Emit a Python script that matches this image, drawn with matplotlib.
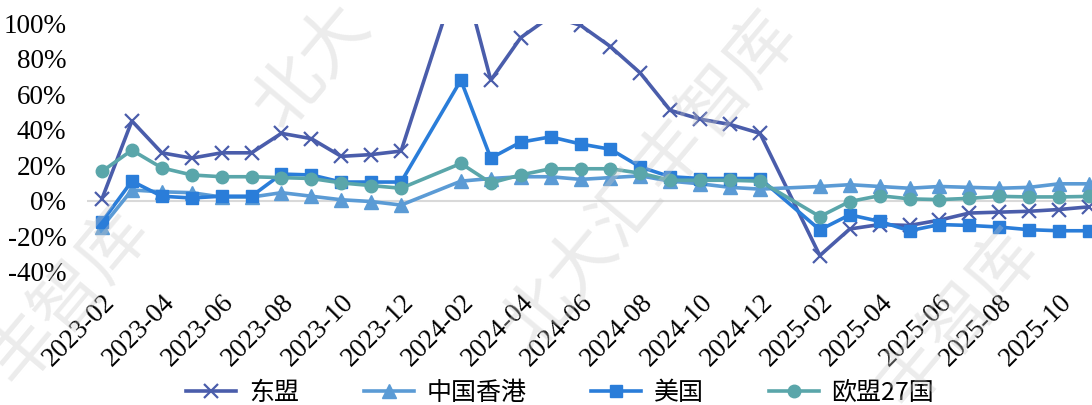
import numpy as np
import matplotlib
matplotlib.use("Agg")
import matplotlib.pyplot as plt

# months (Jan has no separate figure, lines are joined across it)
months = ["2023-02", "2023-03", "2023-04", "2023-05", "2023-06", "2023-07",
          "2023-08", "2023-09", "2023-10", "2023-11", "2023-12",
          "2024-01", "2024-02", "2024-03", "2024-04", "2024-05", "2024-06",
          "2024-07", "2024-08", "2024-09", "2024-10", "2024-11", "2024-12",
          "2025-01", "2025-02", "2025-03", "2025-04", "2025-05", "2025-06",
          "2025-07", "2025-08", "2025-09", "2025-10", "2025-11"]

asean = [1, 45, 27, 24, 27, 27, 38, 35, 25, 26, 28,
         None, 132, 68, 92, 104, 99, 87, 72, 51, 46, 43, 38,
         None, -31, -16, -13.5, -14, -11, -7, -6.5, -6, -5, -3.5]
hk = [-15, 6, 5, 4.5, 2, 2, 4.5, 2.5, 0.5, -0.5, -2.5,
      None, 11, 12.5, 13.5, 13.5, 12, 13, 14, 11, 9.5, 7.5, 6.5,
      None, 8, 9, 8, 7, 8, 7.5, 7, 7.5, 9.5, 9.5]
usa = [-12, 11, 2.5, 1.5, 2.5, 2.5, 15, 14.5, 10.5, 10.5, 10.5,
       None, 68, 24, 33, 36, 32, 29, 19, 13.5, 12.5, 12.5, 12.5,
       None, -16.5, -8, -11.7, -17, -13.5, -14, -14.9, -16.4, -17, -17]
eu27 = [16.5, 28.5, 18.5, 14.5, 13.5, 13.5, 13, 12.5, 10, 8.5, 7,
        None, 21, 10, 14.5, 18, 18, 18, 15.5, 11.5, 11.5, 11.5, 11,
        None, -9, -0.5, 2.8, 1, 0.6, 1.3, 2.4, 2.1, 2.1, 2.4]

names = ["东盟", "中国香港", "美国", "欧盟27国"]
colors = ["#4a5dab", "#5b9bd5", "#2a7dd9", "#5aa6aa"]
markers = ["x", "^", "s", "o"]
msizes = [10, 10, 8.5, 9]

fig = plt.figure(figsize=(10.92, 4.05), dpi=100)
ax = fig.add_axes([87 / 1092, 133.5 / 405, 1 - 87 / 1092, 248 / 405])

for vals, name, c, m, ms in zip([asean, hk, usa, eu27], names, colors, markers, msizes):
    xs = [i for i, v in enumerate(vals) if v is not None]
    ys = [v for v in vals if v is not None]
    ax.plot(xs, ys, color=c, lw=2.6, marker=m, ms=ms, mew=1.6 if m == "x" else 1,
            mec=c, mfc=c, label=name)

ax.axhline(0, color="#d9d9d9", lw=1.5, zorder=0)
ax.set_xlim(-0.5, 33.1)
ax.set_ylim(-40, 100)
ax.set_yticks(np.arange(-40, 101, 20))
ax.set_yticklabels([f"{v}%" for v in range(-40, 101, 20)],
                   family="Liberation Serif", fontsize=19.5)
ax.set_xticks(range(0, len(months), 2))
ax.set_xticklabels(months[::2], rotation=45, ha="right", rotation_mode="anchor",
                   family="Liberation Serif", fontsize=19.5)
ax.tick_params(axis="y", length=0, pad=15)
ax.tick_params(axis="x", length=0, pad=13)
for s in ax.spines.values():
    s.set_visible(False)

fig.legend(loc="center", bbox_to_anchor=(0.513, 0.03), ncol=4, frameon=False,
           prop={"family": ["Noto Sans CJK SC", "DejaVu Sans"], "size": 18},
           handlelength=2.0, handletextpad=0.5, columnspacing=2.6,
           borderaxespad=0)

# faint watermark, only the parts that fall inside the picture
wm_parts = ["北大", "北大汇丰智库", "丰智库", "丰智库"]
wm_xy = [(312, 66), (650, 181), (958, 318), (68, 296)]
for txt, (x, y) in zip(wm_parts, wm_xy):
    fig.text(x / 1092, 1 - y / 405, txt, rotation=50, rotation_mode="anchor",
             ha="center", va="center", fontsize=50, color="#c8c8c8", alpha=0.35,
             family=["Noto Sans CJK SC", "DejaVu Sans"], zorder=10)

fig.savefig("out.png", dpi=100)
